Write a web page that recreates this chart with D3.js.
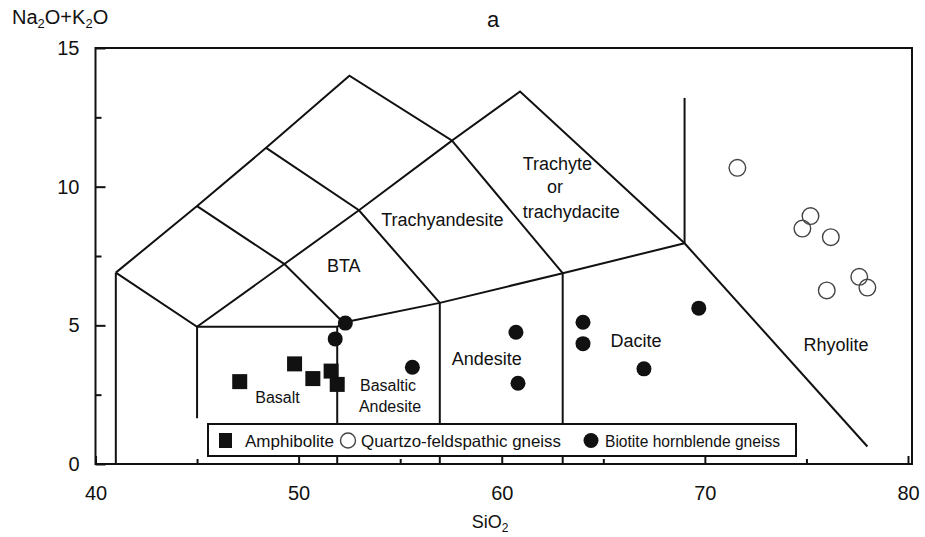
<!DOCTYPE html>
<html>
<head>
<meta charset="utf-8">
<script src="https://cdn.jsdelivr.net/npm/d3@7"></script>
<style>
  body { margin: 0; background: #fff; }
  svg { display: block; }
  text { font-family: "Liberation Sans", Arial, Helvetica, sans-serif; fill: #111; }
</style>
</head>
<body>
<svg id="chart" width="925" height="537"></svg>
<script>
// Sample compositions: [SiO2 wt%, Na2O+K2O wt%]
const amphibolite = [
  [47.1, 2.97], [49.8, 3.61], [50.7, 3.08], [51.6, 3.35], [51.9, 2.87]
];
const quartzoFeldspathic = [
  [71.6, 10.68], [75.2, 8.94], [74.8, 8.49], [76.2, 8.18],
  [77.6, 6.75], [78.0, 6.36], [76.0, 6.26]
];
const biotiteHornblende = [
  [52.3, 5.08], [51.8, 4.51], [55.6, 3.49], [60.7, 4.75], [60.8, 2.91],
  [64.0, 5.11], [64.0, 4.34], [67.0, 3.43], [69.7, 5.62]
];

const xTickLabels = [40, 50, 60, 70, 80];
const yTickLabels = [0, 5, 10, 15];
const xMinorTicks = [45, 55, 65, 75];
const yMinorTicks = [2.5, 7.5, 12.5];

// TAS field boundaries (polylines in data units)
const fieldLines = [
  [[41, 0], [41, 6.9]],
  [[41, 6.9], [45, 9.3], [48.4, 11.4], [52.5, 14.0], [57.55, 11.66], [60.9, 13.43], [69, 7.96]],
  [[41, 6.9], [45, 4.95], [51.9, 4.95], [52.2, 5.1]],
  [[45, 4.95], [49.3, 7.21], [52.97, 9.15], [57.55, 11.66]],
  [[45, 9.3], [49.3, 7.21], [52.2, 5.1]],
  [[48.4, 11.4], [52.97, 9.15], [56.95, 5.81]],
  [[57.55, 11.66], [63, 6.88]],
  [[52.2, 5.1], [56.95, 5.81], [63, 6.88], [69, 7.96]],
  [[45, 4.95], [45, 1.65]],
  [[51.9, 4.95], [51.9, 0]],
  [[56.95, 5.81], [56.95, 0]],
  [[63, 6.88], [63, 0]],
  [[69, 7.96], [78.0, 0.63]],
  [[69, 7.96], [69, 13.2]]
];

// Field names: [text, SiO2, alkali (baseline), font size]
const fieldLabels = [
  ["BTA", 52.22, 6.92, 18],
  ["Trachyandesite", 57.08, 8.59, 18],
  ["Trachyte", 62.74, 10.6, 18],
  ["or", 62.62, 9.76, 18],
  ["trachydacite", 63.42, 8.88, 18],
  ["Basalt", 48.96, 2.21, 16],
  ["Basaltic", 54.4, 2.64, 16],
  ["Andesite", 54.5, 1.89, 16],
  ["Andesite", 59.26, 3.57, 18],
  ["Dacite", 66.61, 4.23, 18],
  ["Rhyolite", 76.46, 4.08, 18]
];

const legendItems = ["Amphibolite", "Quartzo-feldspathic gneiss", "Biotite hornblende gneiss"];

const svg = d3.select("#chart");
const x = d3.scaleLinear().domain([40, 80]).range([95.5, 908]);
const y = d3.scaleLinear().domain([0, 15]).range([464, 48]);

// field boundaries
const line = d3.line().x(d => x(d[0])).y(d => y(d[1]));
svg.append("g")
  .selectAll("path")
  .data(fieldLines)
  .join("path")
  .attr("d", line)
  .attr("fill", "none")
  .attr("stroke", "#111")
  .attr("stroke-width", 2)
  .attr("stroke-linejoin", "miter");

// field names
svg.append("g")
  .selectAll("text")
  .data(fieldLabels)
  .join("text")
  .attr("x", d => x(d[1]))
  .attr("y", d => y(d[2]))
  .attr("text-anchor", "middle")
  .attr("font-size", d => d[3])
  .text(d => d[0]);

// axes (ticks point inward)
const xAxis = svg.append("g").attr("transform", `translate(0,${y(0)})`)
  .call(d3.axisBottom(x).tickValues(xTickLabels).tickSize(-8).tickPadding(22).tickFormat(d3.format("d")));
const xMinor = svg.append("g").attr("transform", `translate(0,${y(0)})`)
  .call(d3.axisBottom(x).tickValues(xMinorTicks).tickSize(-5).tickFormat(""));
const yAxis = svg.append("g").attr("transform", `translate(${x(40)},0)`)
  .call(d3.axisLeft(y).tickValues(yTickLabels).tickSize(-10).tickPadding(16).tickFormat(d3.format("d")));
const yMinor = svg.append("g").attr("transform", `translate(${x(40)},0)`)
  .call(d3.axisLeft(y).tickValues(yMinorTicks).tickSize(-6).tickFormat(""));
[xAxis, xMinor, yAxis, yMinor].forEach(g => {
  g.select(".domain").remove();
  g.selectAll(".tick line").attr("stroke", "#111").attr("stroke-width", 2);
  g.selectAll(".tick text").attr("font-size", 20).attr("fill", "#111")
    .attr("font-family", '"Liberation Sans", Arial, sans-serif');
});

// plot frame
svg.append("rect")
  .attr("x", x(40)).attr("y", y(15))
  .attr("width", 912 - x(40)).attr("height", y(0) - y(15))
  .attr("fill", "none").attr("stroke", "#111").attr("stroke-width", 2);

// samples
svg.append("g")
  .selectAll("rect")
  .data(amphibolite)
  .join("rect")
  .attr("x", d => x(d[0]) - 7.5)
  .attr("y", d => y(d[1]) - 7.5)
  .attr("width", 15).attr("height", 15)
  .attr("fill", "#111");

svg.append("g")
  .selectAll("circle")
  .data(quartzoFeldspathic)
  .join("circle")
  .attr("cx", d => x(d[0])).attr("cy", d => y(d[1]))
  .attr("r", 8.3)
  .attr("fill", "none").attr("stroke", "#444").attr("stroke-width", 1.4);

svg.append("g")
  .selectAll("circle")
  .data(biotiteHornblende)
  .join("circle")
  .attr("cx", d => x(d[0])).attr("cy", d => y(d[1]))
  .attr("r", 7.5)
  .attr("fill", "#111");

// legend
const lg = svg.append("g").attr("transform", "translate(208,424)");
lg.append("rect").attr("width", 588).attr("height", 32)
  .attr("fill", "#fff").attr("stroke", "#111").attr("stroke-width", 2);
lg.append("rect").attr("x", 11).attr("y", 9).attr("width", 13).attr("height", 15).attr("fill", "#111");
lg.append("circle").attr("cx", 140).attr("cy", 16.5).attr("r", 7.5)
  .attr("fill", "none").attr("stroke", "#444").attr("stroke-width", 1.4);
lg.append("circle").attr("cx", 383).attr("cy", 16.5).attr("r", 7.5).attr("fill", "#111");
const legendX = [37, 153, 397];
const legendW = [89, 200, 175];
lg.selectAll("text.item")
  .data(legendItems)
  .join("text")
  .attr("class", "item")
  .attr("x", (d, i) => legendX[i])
  .attr("y", 22.5)
  .attr("font-size", 16.5)
  .attr("textLength", (d, i) => legendW[i])
  .attr("lengthAdjust", "spacingAndGlyphs")
  .text(d => d);

// titles
svg.append("text").attr("x", 493).attr("y", 27).attr("text-anchor", "middle")
  .attr("font-size", 22).text("a");

const yTitle = svg.append("text").attr("x", 12).attr("y", 24).attr("font-size", 20);
yTitle.append("tspan").text("Na");
yTitle.append("tspan").attr("font-size", 13).attr("dy", 4).text("2");
yTitle.append("tspan").attr("dy", -4).text("O+K");
yTitle.append("tspan").attr("font-size", 13).attr("dy", 4).text("2");
yTitle.append("tspan").attr("dy", -4).text("O");

const xTitle = svg.append("text").attr("x", 490).attr("y", 528).attr("text-anchor", "middle").attr("font-size", 18);
xTitle.append("tspan").text("SiO");
xTitle.append("tspan").attr("font-size", 12).attr("dy", 4).text("2");
</script>
</body>
</html>
